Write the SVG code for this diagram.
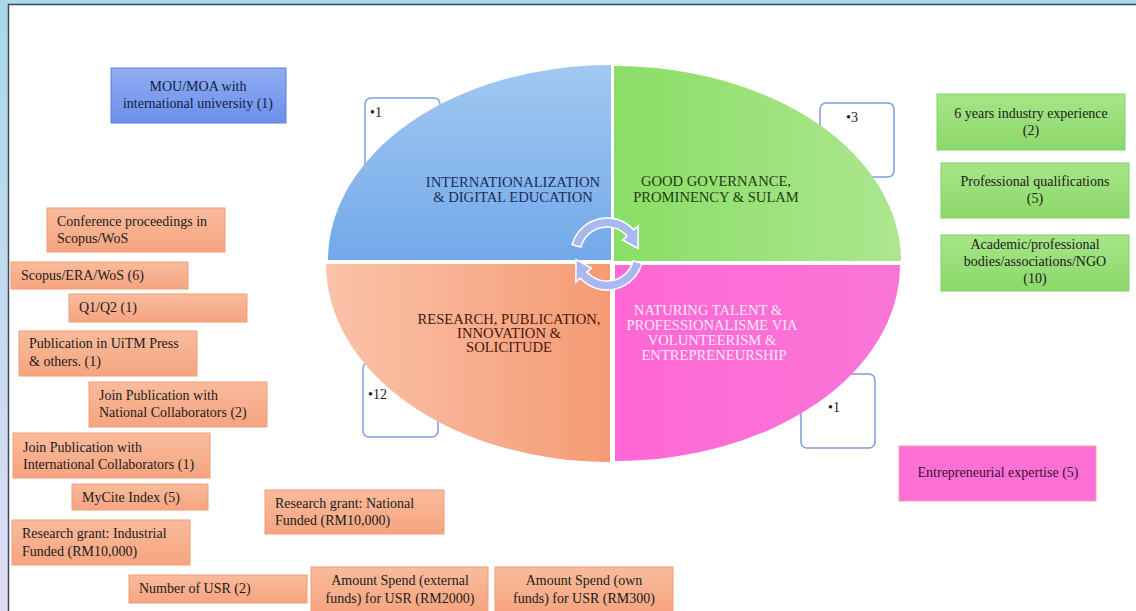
<svg xmlns="http://www.w3.org/2000/svg" width="1136" height="611" viewBox="0 0 1136 611">
<defs>
<linearGradient id="leftStrip" x1="0" y1="0" x2="0" y2="1"><stop offset="0" stop-color="#a8d8ea"/><stop offset="1" stop-color="#e0dcf6"/></linearGradient>
<linearGradient id="gBlueQ" x1="0" y1="0" x2="0" y2="1"><stop offset="0" stop-color="#a2c8f1"/><stop offset="1" stop-color="#72a9ea"/></linearGradient>
<linearGradient id="gGreenQ" x1="0" y1="0" x2="1" y2="0"><stop offset="0" stop-color="#8ade66"/><stop offset="1" stop-color="#ade68f"/></linearGradient>
<linearGradient id="gOrangeQ" x1="0" y1="0" x2="1" y2="0"><stop offset="0" stop-color="#fac3aa"/><stop offset="1" stop-color="#f59b74"/></linearGradient>
<linearGradient id="gPinkQ" x1="0" y1="0" x2="1" y2="0"><stop offset="0" stop-color="#ff68d5"/><stop offset="1" stop-color="#fb76d8"/></linearGradient>
<linearGradient id="gOrange" x1="0" y1="0" x2="0" y2="1"><stop offset="0" stop-color="#f9bb9c"/><stop offset="1" stop-color="#f6a47f"/></linearGradient>
<linearGradient id="gGreen" x1="0" y1="0" x2="0" y2="1"><stop offset="0" stop-color="#a6e588"/><stop offset="1" stop-color="#8cd869"/></linearGradient>
<linearGradient id="gBlue" x1="0" y1="0" x2="0" y2="1"><stop offset="0" stop-color="#8fadf2"/><stop offset="1" stop-color="#6d8fe9"/></linearGradient>
<style>
.t{font-family:"Liberation Serif","Times New Roman",serif;font-size:14px;fill:#1c1c1c}
.q{font-family:"Liberation Serif","Times New Roman",serif;font-size:14.6px;text-anchor:middle}
.c{text-anchor:middle}
.ob{fill:url(#gOrange);stroke:#f29c74;stroke-width:1}
.gb{fill:url(#gGreen);stroke:#84d262;stroke-width:1}
.wb{fill:#ffffff;stroke:#7d9ddc;stroke-width:1.5}
.arr{fill:#a9b9ef;stroke:#ffffff;stroke-width:1.5}
</style>
</defs>
<rect x="0" y="0" width="1136" height="611" fill="#ffffff"/>
<rect x="0" y="0" width="1136" height="4" fill="#a9d9ea"/>
<rect x="0" y="0" width="8" height="611" fill="url(#leftStrip)"/>
<path d="M8.5,611 L8.5,4.5 L1136,4.5" fill="none" stroke="#3f4a50" stroke-width="1.5"/>

<g id="count-box-1"><rect class="wb" x="365" y="98" width="75" height="75" rx="6"/><text class="t" x="370" y="117">•1</text></g>
<g id="count-box-3"><rect class="wb" x="820" y="103" width="74" height="74" rx="6"/><text class="t" x="846" y="122">•3</text></g>
<g id="count-box-12"><rect class="wb" x="363" y="362" width="75" height="75" rx="6"/><text class="t" x="368" y="399">•12</text></g>
<g id="count-box-1b"><rect class="wb" x="801" y="374" width="74" height="74" rx="6"/><text class="t" x="828" y="412">•1</text></g>

<g id="quadrant-internationalization">
<path d="M611,260 L328,260 A283,195 0 0 1 611,65 Z" fill="url(#gBlueQ)"/>
<text class="q" fill="#1b2d5c"><tspan x="513" y="187">INTERNATIONALIZATION</tspan><tspan x="513" y="202">&amp; DIGITAL EDUCATION</tspan></text>
</g>
<g id="quadrant-governance">
<path d="M614,261 L614,66 A287,195 0 0 1 901,261 Z" fill="url(#gGreenQ)"/>
<text class="q" fill="#1c3d10"><tspan x="716" y="186">GOOD GOVERNANCE,</tspan><tspan x="716" y="202">PROMINENCY &amp; SULAM</tspan></text>
</g>
<g id="quadrant-research">
<path d="M610,264 L326,264 A284,198 0 0 0 610,462 Z" fill="url(#gOrangeQ)"/>
<text class="q" fill="#4a1608"><tspan x="509" y="324">RESEARCH, PUBLICATION,</tspan><tspan x="509" y="338">INNOVATION &amp;</tspan><tspan x="509" y="352">SOLICITUDE</tspan></text>
</g>
<g id="quadrant-talent">
<path d="M615,265 L900,265 A285,196 0 0 1 615,461 Z" fill="url(#gPinkQ)"/>
<text class="q" fill="#ffe8f6"><tspan x="708" y="315">NATURING TALENT &amp;</tspan><tspan x="712" y="330">PROFESSIONALISME VIA</tspan><tspan x="712" y="345">VOLUNTEERISM &amp;</tspan><tspan x="714" y="360">ENTREPRENEURSHIP</tspan></text>
</g>

<g id="connectors">
<path class="arr" d="M572.2,244.7 A36,36 0 0 1 633.8,229.9 L638.2,225.9 L638.0,248.5 L622.6,240.0 L627.1,235.9 A27,27 0 0 0 580.9,247.0 Z"/>
<path class="arr" d="M641.8,263.3 A36,36 0 0 1 580.2,278.1 L575.8,282.1 L576.0,259.5 L591.4,268.1 L586.9,272.1 A27,27 0 0 0 633.1,261.0 Z"/>
</g>

<g id="mou-box"><rect x="111" y="68" width="175" height="55" fill="url(#gBlue)" stroke="#5a7fdc" stroke-width="1"/><text class="t c" style="fill:#10204a"><tspan x="198" y="91">MOU/MOA with</tspan><tspan x="198" y="108">international university (1)</tspan></text></g>

<g id="conference-box"><rect class="ob" x="47" y="208" width="178" height="44"/><text class="t"><tspan x="57" y="226">Conference proceedings in</tspan><tspan x="57" y="243">Scopus/WoS</tspan></text></g>
<g id="scopus-box"><rect class="ob" x="11" y="262" width="177" height="27"/><text class="t" x="21" y="280">Scopus/ERA/WoS (6)</text></g>
<g id="q1q2-box"><rect class="ob" x="69" y="294" width="178" height="28"/><text class="t" x="79" y="312">Q1/Q2 (1)</text></g>
<g id="uitm-box"><rect class="ob" x="19" y="331" width="178" height="45"/><text class="t"><tspan x="29" y="348">Publication in UiTM Press</tspan><tspan x="29" y="366">&amp; others. (1)</tspan></text></g>
<g id="national-collab-box"><rect class="ob" x="89" y="382" width="178" height="45"/><text class="t"><tspan x="99" y="400">Join Publication with</tspan><tspan x="99" y="417">National Collaborators (2)</tspan></text></g>
<g id="intl-collab-box"><rect class="ob" x="13" y="433" width="197" height="45"/><text class="t"><tspan x="23" y="452">Join Publication with</tspan><tspan x="23" y="469">International Collaborators (1)</tspan></text></g>
<g id="mycite-box"><rect class="ob" x="72" y="484" width="136" height="26"/><text class="t" x="82" y="502">MyCite Index (5)</text></g>
<g id="industrial-grant-box"><rect class="ob" x="12" y="520" width="178" height="45"/><text class="t"><tspan x="22" y="538">Research grant: Industrial</tspan><tspan x="22" y="556">Funded (RM10,000)</tspan></text></g>
<g id="national-grant-box"><rect class="ob" x="265" y="490" width="179" height="44"/><text class="t"><tspan x="275" y="508">Research grant: National</tspan><tspan x="275" y="525">Funded (RM10,000)</tspan></text></g>
<g id="usr-box"><rect class="ob" x="129" y="575" width="178" height="28"/><text class="t" x="139" y="593">Number of USR (2)</text></g>
<g id="external-funds-box"><rect class="ob" x="311" y="567" width="177" height="46"/><text class="t c"><tspan x="400" y="585">Amount Spend (external</tspan><tspan x="400" y="603">funds) for USR (RM2000)</tspan></text></g>
<g id="own-funds-box"><rect class="ob" x="495" y="567" width="178" height="46"/><text class="t c"><tspan x="584" y="585">Amount Spend (own</tspan><tspan x="584" y="603">funds) for USR (RM300)</tspan></text></g>

<g id="industry-box"><rect class="gb" x="937" y="94" width="188" height="56"/><text class="t c"><tspan x="1031" y="118">6 years industry experience</tspan><tspan x="1031" y="135">(2)</tspan></text></g>
<g id="professional-box"><rect class="gb" x="941" y="163" width="188" height="55"/><text class="t c"><tspan x="1035" y="186">Professional qualifications</tspan><tspan x="1035" y="203">(5)</tspan></text></g>
<g id="bodies-box"><rect class="gb" x="941" y="235" width="188" height="56"/><text class="t c"><tspan x="1035" y="249">Academic/professional</tspan><tspan x="1035" y="266">bodies/associations/NGO</tspan><tspan x="1035" y="283">(10)</tspan></text></g>
<g id="entrepreneurial-box"><rect x="899" y="446" width="197" height="55" fill="#ff70d7" stroke="#f4a2a8" stroke-width="1"/><text class="t c" style="fill:#3a0f30" x="998" y="477">Entrepreneurial expertise (5)</text></g>
</svg>
